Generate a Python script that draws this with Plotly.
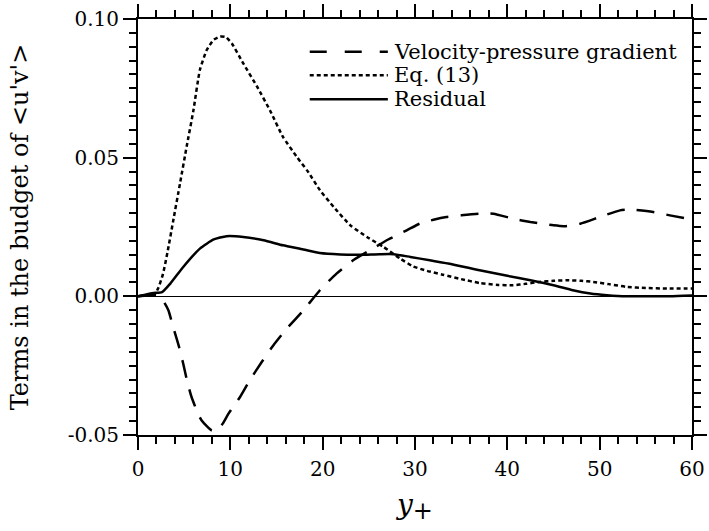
import plotly.graph_objects as go

# ---- data ----
eq13_x = [0, 1, 1.8, 2.2, 2.7, 3.2, 3.8, 4.55, 5.27, 6.0, 6.7, 7.44, 8.2, 8.9, 9.5,
          10.2, 11.4, 12.9, 14.3, 15.7, 17.2, 18.4, 19.7, 21.2, 23.0, 24.8, 26.6,
          28.4, 29.8, 31.3, 33, 35, 37, 39, 40.6, 42, 43.5, 45, 46.4, 48, 49.3,
          51, 52.9, 55, 57.3, 60]
eq13_y = [0, 0.0004, 0.0008, 0.003, 0.008, 0.016, 0.027, 0.0407, 0.054, 0.067,
          0.0816, 0.0888, 0.0925, 0.0937, 0.0935, 0.091, 0.084, 0.0756, 0.067,
          0.0575, 0.0503, 0.0450, 0.0383, 0.0322, 0.0256, 0.0214, 0.0178, 0.0136,
          0.0108, 0.0092, 0.0078, 0.0062, 0.0048, 0.0041, 0.0040, 0.0045, 0.0052,
          0.0056, 0.0058, 0.0056, 0.0052, 0.0044, 0.0034, 0.0030, 0.0028, 0.0028]

res_x = [0, 1, 1.7, 2.6, 3.5, 4.9, 6.7, 8.2, 9.6, 11.4, 13.6, 15.7, 17.9, 19.7,
         21.9, 24, 26.2, 27.7, 29.5, 31.6, 34, 37, 40, 42.5, 45, 47.1, 49, 50.8,
         52.9, 55, 57.6, 60]
res_y = [0, 0.0008, 0.0012, 0.0015, 0.0046, 0.0106, 0.0172, 0.0205, 0.0217,
         0.0214, 0.0202, 0.0184, 0.0169, 0.0156, 0.0151, 0.0150, 0.0152, 0.0152,
         0.0142, 0.0130, 0.0116, 0.0094, 0.0074, 0.0058, 0.0040, 0.0022, 0.0010,
         0.0004, 0.0, 0.0, 0.0, 0.0003]

vpg_x = [0, 1, 2, 2.8, 3.3, 3.8, 4.4, 4.9, 5.3, 5.8, 6.5, 6.9, 7.5, 8.0, 8.6,
         9.2, 9.8, 11.05, 12.1, 13.4, 14.65, 16.1, 17.9, 19.7, 21.5, 23.3, 25.1,
         27.1, 29.1, 30.5, 32, 33.4, 35, 37, 38.5, 40.6, 42.5, 45, 46.2, 47.9,
         50, 52.2, 53.3, 55.8, 57.6, 60]
vpg_y = [0, 0.0003, 0.0005, -0.002, -0.0051, -0.011, -0.0177, -0.0243, -0.0303,
         -0.0363, -0.0423, -0.0448, -0.047, -0.0484, -0.0482, -0.0458, -0.0423,
         -0.0363, -0.0303, -0.0237, -0.0177, -0.0117, -0.0051, 0.0022, 0.0082,
         0.0130, 0.0166, 0.0205, 0.0238, 0.0262, 0.0276, 0.0286, 0.0292, 0.0298,
         0.0298, 0.0280, 0.0268, 0.0256, 0.0253, 0.0262, 0.0286, 0.0310, 0.0313,
         0.0304, 0.0292, 0.0277]

series_names = ["Velocity-pressure gradient", "Eq. (13)", "Residual"]
x_ticks = [0, 10, 20, 30, 40, 50, 60]
y_ticks = [-0.05, 0.0, 0.05, 0.10]
y_ticktext = ["-0.05", "0.00", "0.05", "0.10"]

FONT = "DejaVu Serif, Liberation Serif, Times New Roman, serif"
dashes = ["18px,12px", "4px,3px", "solid"]
legend_dashes = ["17px,18px", "4px,3px", "solid"]

fig = go.Figure()
for xs, ys, name, d in zip([vpg_x, eq13_x, res_x], [vpg_y, eq13_y, res_y],
                           series_names, dashes):
    fig.add_trace(go.Scatter(x=xs, y=ys, mode="lines", name=name,
                             line=dict(color="black", width=2.5, dash=d,
                                       shape="spline", smoothing=0.5),
                             showlegend=False))

# manual legend (long line samples like the reference)
leg_y = [0.921, 0.865, 0.807]
for name, d, yy in zip(series_names, legend_dashes, leg_y):
    fig.add_shape(type="line", xref="paper", yref="paper",
                  x0=0.310, x1=0.451, y0=yy, y1=yy,
                  line=dict(color="black", width=2.5, dash=d))
    fig.add_annotation(xref="paper", yref="paper", x=0.458, y=yy,
                       text=name, showarrow=False, xanchor="left",
                       yanchor="middle",
                       font=dict(family=FONT, size=21, color="black"))

axis_common = dict(
    showline=True, linecolor="black", linewidth=2, mirror="allticks",
    ticks="outside", ticklen=13, tickwidth=2, tickcolor="black",
    showgrid=False, automargin=False,
    tickfont=dict(family=FONT, size=20, color="black"),
)

fig.update_xaxes(range=[0, 60], tickvals=x_ticks, zeroline=False,
                 ticklabelstandoff=2,
                 minor=dict(ticks="outside", dtick=2, ticklen=7, tickwidth=2,
                            tickcolor="black", showgrid=False),
                 title=dict(text="<i>y</i><sub><span style='font-size:24px'>+</span></sub>",
                            font=dict(family=FONT, size=28, color="black"),
                            standoff=14),
                 **axis_common)
fig.update_yaxes(range=[-0.05, 0.10], tickvals=y_ticks, ticktext=y_ticktext,
                 zeroline=True, zerolinecolor="black", zerolinewidth=1,
                 minor=dict(ticks="outside", dtick=0.005, ticklen=7, tickwidth=2,
                            tickcolor="black", showgrid=False),
                 title=dict(text="Terms in the budget of &lt;u'v'&gt;",
                            font=dict(family=FONT, size=24, color="black"),
                            standoff=32),
                 **axis_common)

fig.update_layout(
    width=709, height=531,
    margin=dict(l=138, r=17, t=19, b=96),
    paper_bgcolor="white", plot_bgcolor="white",
    font=dict(family=FONT, color="black"),
)

fig.write_html("out.html")
